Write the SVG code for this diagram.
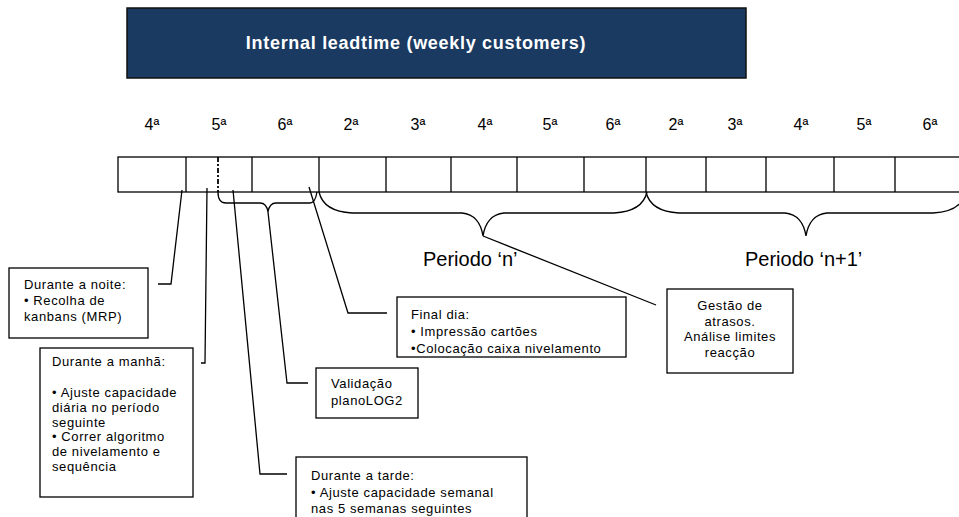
<svg xmlns="http://www.w3.org/2000/svg" width="959" height="517" viewBox="0 0 959 517">
  <style>
    text { font-family: "Liberation Sans", Arial, sans-serif; fill: #000; }
    .title { font-size: 18px; font-weight: bold; fill: #fff; letter-spacing: 0.7px; }
    .day { font-size: 16px; text-anchor: middle; }
    .period { font-size: 20px; }
    .note { font-size: 13px; letter-spacing: 0.6px; }
    .box { fill: #fff; stroke: #000; stroke-width: 1.3; }
    .line { fill: none; stroke: #000; stroke-width: 1.3; }
  </style>

  <!-- title banner -->
  <g id="title">
    <rect x="127" y="8" width="619" height="70" fill="#1a3a62" stroke="#111" stroke-width="1.5"/>
    <text class="title" x="416" y="49" text-anchor="middle">Internal leadtime (weekly customers)</text>
  </g>

  <!-- weekday labels -->
  <g id="days">
    <text class="day" x="152" y="130">4ª</text>
    <text class="day" x="219" y="130">5ª</text>
    <text class="day" x="285" y="130">6ª</text>
    <text class="day" x="351" y="130">2ª</text>
    <text class="day" x="418" y="130">3ª</text>
    <text class="day" x="485" y="130">4ª</text>
    <text class="day" x="550" y="130">5ª</text>
    <text class="day" x="613" y="130">6ª</text>
    <text class="day" x="676" y="130">2ª</text>
    <text class="day" x="735" y="130">3ª</text>
    <text class="day" x="801" y="130">4ª</text>
    <text class="day" x="864" y="130">5ª</text>
    <text class="day" x="930" y="130">6ª</text>
  </g>

  <!-- timeline strip -->
  <g id="timeline">
    <rect x="118" y="157" width="860" height="35" class="line"/>
    <path class="line" d="M186 157V192M252 157V192M319 157V192M386 157V192M451 157V192M517 157V192M584 157V192M646 157V192M706 157V192M766 157V192M834 157V192M895 157V192"/>
    <line x1="218" y1="157" x2="218" y2="192" fill="none" stroke="#000" stroke-width="1.8" stroke-dasharray="5 2 2 2"/>
  </g>

  <!-- braces -->
  <g id="braces">
    <path class="line" d="M218 192C218 199 220 203 226 203L260 203C264 203 267 206 268 212C269 206 272 203 276 203L310 203C314 203 316 198 317 192"/>
    <path class="line" d="M319 192C322 205 334 212 352 213L462 213C474 214 481 223 483 236C485 223 492 214 504 213L614 213C632 212 644 205 647 192"/>
    <path class="line" d="M646 192C649 205 661 212 679 213L785 213C797 214 804 223 806 236C808 223 815 214 827 213L933 213C951 212 963 205 966 192"/>
    <text class="period" x="423" y="266">Periodo ‘n’</text>
    <text class="period" x="745" y="266">Periodo ‘n+1’</text>
  </g>

  <!-- leader lines -->
  <g id="connectors">
    <polyline class="line" points="182,190 171,284 158,284"/>
    <polyline class="line" points="207,188 205,363 201,363"/>
    <polyline class="line" points="233,190 260,474 287,474"/>
    <polyline class="line" points="268,212 287,383 308,383"/>
    <polyline class="line" points="309,187 348,313 387,313"/>
    <line class="line" x1="483" y1="236" x2="656" y2="305"/>
  </g>

  <g id="noite">
    <rect class="box" x="9" y="268" width="139" height="70"/>
    <text class="note" x="24" y="289">Durante a noite:</text>
    <text class="note" x="24" y="305">• Recolha de</text>
    <text class="note" x="24" y="321">kanbans (MRP)</text>
  </g>

  <g id="manha">
    <rect class="box" x="40" y="348" width="153" height="149"/>
    <text class="note" x="52" y="366">Durante a manhã:</text>
    <text class="note" x="52" y="397">• Ajuste capacidade</text>
    <text class="note" x="52" y="412">diária no período</text>
    <text class="note" x="52" y="427">seguinte</text>
    <text class="note" x="52" y="441">• Correr algoritmo</text>
    <text class="note" x="52" y="456">de nivelamento e</text>
    <text class="note" x="52" y="471">sequência</text>
  </g>

  <g id="tarde">
    <rect class="box" x="296" y="457" width="231" height="70"/>
    <text class="note" x="311" y="480">Durante a tarde:</text>
    <text class="note" x="311" y="497">• Ajuste capacidade semanal</text>
    <text class="note" x="311" y="513">nas 5 semanas seguintes</text>
  </g>

  <g id="validacao">
    <rect class="box" x="316" y="368" width="102" height="50"/>
    <text class="note" x="331" y="388">Validação</text>
    <text class="note" x="331" y="405">planoLOG2</text>
  </g>

  <g id="final-dia">
    <rect class="box" x="397" y="297" width="229" height="60"/>
    <text class="note" x="411" y="319">Final dia:</text>
    <text class="note" x="411" y="336">• Impressão cartões</text>
    <text class="note" x="411" y="353">•Colocação caixa nivelamento</text>
  </g>

  <g id="gestao">
    <rect class="box" x="667" y="289" width="126" height="84"/>
    <text class="note" x="730" y="310" text-anchor="middle">Gestão de</text>
    <text class="note" x="730" y="326" text-anchor="middle">atrasos.</text>
    <text class="note" x="730" y="341" text-anchor="middle">Análise limites</text>
    <text class="note" x="730" y="357" text-anchor="middle">reacção</text>
  </g>
</svg>
